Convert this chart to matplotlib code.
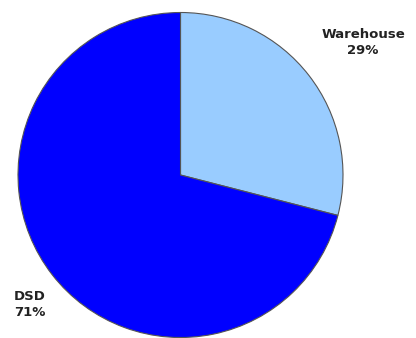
import matplotlib.pyplot as plt

labels = ["Warehouse", "DSD"]
shares = [29, 71]
colors = ["#99CCFF", "#0000FF"]

fig = plt.figure(figsize=(4.16, 3.38), dpi=100)
ax = fig.add_axes([0, 0, 1, 1])

ax.pie(shares, colors=colors, startangle=90, counterclock=False,
       center=(180.5, 163), radius=162.5,
       wedgeprops=dict(edgecolor="#555555", linewidth=0.8))

# pie() resets the limits, so fix them in pixel units afterwards
ax.set_aspect("auto")
ax.set_xlim(0, 416)
ax.set_ylim(0, 338)
ax.axis("off")

ax.text(363, 296, f"{labels[0]}\n{shares[0]}%", ha="center", va="center",
        fontsize=9.5, fontweight="bold", linespacing=1.3, color="#222222")
ax.text(14, 33, f"{labels[1]}\n{shares[1]}%", ha="left", va="center",
        fontsize=9.5, fontweight="bold", linespacing=1.3, color="#222222")

fig.savefig("out.png", dpi=100)
